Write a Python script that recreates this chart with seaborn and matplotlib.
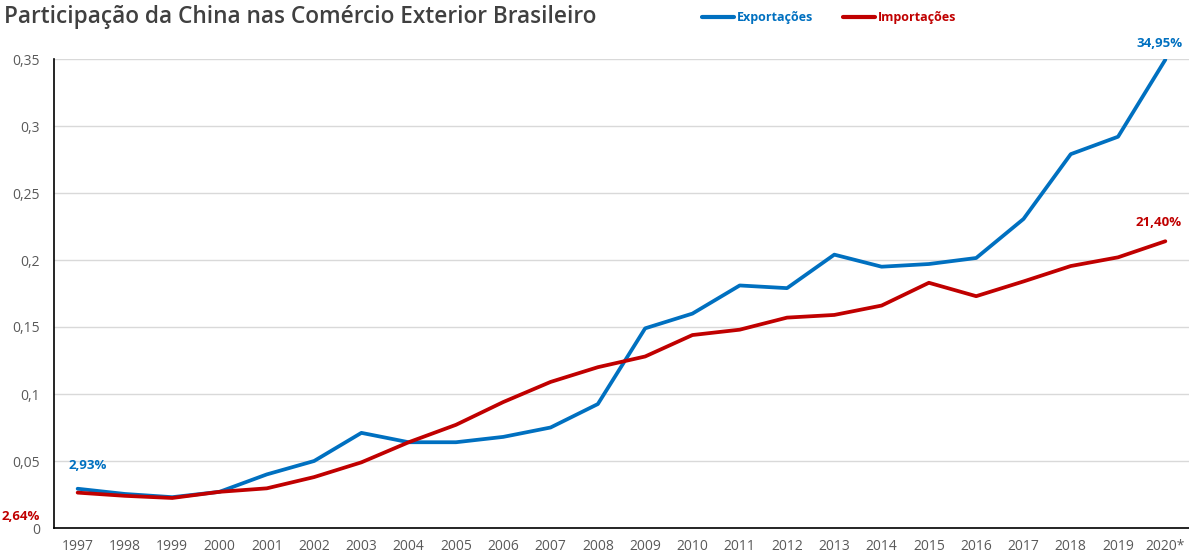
import numpy as np
import pandas as pd
import matplotlib
matplotlib.use("Agg")
import matplotlib.pyplot as plt
import matplotlib.ticker as ticker
import seaborn as sns
from matplotlib.lines import Line2D

# ── Data (share of China in Brazil's foreign trade) ─────────────────────────
years = ["1997", "1998", "1999", "2000", "2001", "2002", "2003", "2004",
         "2005", "2006", "2007", "2008", "2009", "2010", "2011", "2012",
         "2013", "2014", "2015", "2016", "2017", "2018", "2019", "2020*"]
exportacoes = [0.0293, 0.0254, 0.0230, 0.0270, 0.0400, 0.0500, 0.0710, 0.0640,
               0.0640, 0.0680, 0.0750, 0.0925, 0.1490, 0.1600, 0.1810, 0.1790,
               0.2040, 0.1950, 0.1970, 0.2015, 0.2306, 0.2790, 0.2920, 0.3495]
importacoes = [0.0264, 0.0240, 0.0224, 0.0270, 0.0296, 0.0380, 0.0490, 0.0640,
               0.0770, 0.0940, 0.1090, 0.1200, 0.1280, 0.1440, 0.1480, 0.1570,
               0.1590, 0.1660, 0.1830, 0.1730, 0.1840, 0.1955, 0.2020, 0.2140]

BLUE = "#0070C0"
RED = "#C00000"
GREY = "#595959"

df = pd.DataFrame({"ano": years * 2,
                   "valor": exportacoes + importacoes,
                   "serie": ["Exportações"] * len(years) + ["Importações"] * len(years)})

sns.set_theme(style="white")
plt.rcParams["font.family"] = ["Open Sans", "DejaVu Sans"]

fig = plt.figure(figsize=(11.89, 5.55), dpi=100)
ax = fig.add_axes([54 / 1189, 1 - 528 / 555, 1 - 54 / 1189, (528 - 59) / 555])

sns.lineplot(data=df, x="ano", y="valor", hue="serie", palette=[BLUE, RED],
             linewidth=2.7, sort=False, ax=ax, legend=False)

ax.set_xlim(-0.5, len(years) - 0.5)
ax.set_ylim(0, 0.35)
ax.set_yticks(np.arange(0, 0.351, 0.05))
ax.yaxis.set_major_formatter(ticker.FuncFormatter(
    lambda v, p: "0" if v == 0 else f"{v:.2f}".rstrip("0").replace(".", ",")))
ax.grid(axis="y", color="#d9d9d9", linewidth=1)
ax.set_axisbelow(True)
ax.set_xlabel("")
ax.set_ylabel("")
for s in ["top", "right"]:
    ax.spines[s].set_visible(False)
for s in ["left", "bottom"]:
    ax.spines[s].set_color("black")
    ax.spines[s].set_linewidth(1.2)
ax.tick_params(axis="both", colors=GREY, labelsize=10, length=0, pad=8)
ax.tick_params(axis="y", pad=10)

# ── Annotations for first / last values ─────────────────────────────────────
def pct(v):
    return f"{v * 100:.2f}%".replace(".", ",")

ax.annotate(pct(exportacoes[0]), (0, exportacoes[0]), xytext=(7, 14),
            textcoords="offset points", ha="center", color=BLUE,
            fontsize=9.5, fontweight="bold")
ax.annotate(pct(importacoes[0]), (0, importacoes[0]), xytext=(-41, -20),
            textcoords="offset points", ha="center", color=RED,
            fontsize=9.5, fontweight="bold", annotation_clip=False)
ax.annotate(pct(exportacoes[-1]), (len(years) - 1, exportacoes[-1]), xytext=(-4, 9),
            textcoords="offset points", ha="center", color=BLUE,
            fontsize=9.5, fontweight="bold", annotation_clip=False)
ax.annotate(pct(importacoes[-1]), (len(years) - 1, importacoes[-1]), xytext=(-5, 11),
            textcoords="offset points", ha="center", color=RED,
            fontsize=9.5, fontweight="bold", annotation_clip=False)

# ── Title and legend ────────────────────────────────────────────────────────
fig.text(4 / 1189, 1 - 17 / 555, "Participação da China nas Comércio Exterior Brasileiro",
         ha="left", va="center", fontsize=16.3, color="#404040", fontweight="semibold")

handles = [Line2D([0], [0], color=BLUE, lw=3), Line2D([0], [0], color=RED, lw=3)]
leg = fig.legend(handles, ["Exportações", "Importações"], loc="center",
                 bbox_to_anchor=(829 / 1189, 1 - 18 / 555), ncol=2, frameon=False,
                 handlelength=2.6, handletextpad=0.2, columnspacing=2.4,
                 prop={"size": 9, "weight": "bold"})
for t, c in zip(leg.get_texts(), [BLUE, RED]):
    t.set_color(c)

fig.savefig("out.png", dpi=100)
